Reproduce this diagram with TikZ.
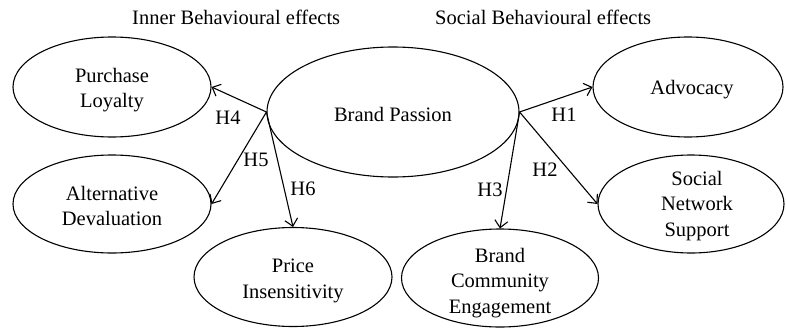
\documentclass[tikz,border=0pt]{standalone}
\usepackage{fontspec}
\setmainfont{Liberation Serif}
\usetikzlibrary{arrows.meta,shapes.geometric}
\begin{document}
\begin{tikzpicture}[x=1pt,y=-1pt,
  bubble/.style={draw, ellipse, line width=1.1pt, inner sep=0pt},
  lbl/.style={align=center, font=\fontsize{20.5}{25.5}\selectfont, inner sep=0pt},
  hyp/.style={font=\fontsize{20.5}{24}\selectfont, inner sep=0pt},
  arr/.style={-{Straight Barb[length=7pt,width=13pt]}, line width=1.1pt}]
\useasboundingbox (0,0) rectangle (786,329);
% ellipses
\node[bubble, minimum width=252pt, minimum height=130pt] (bp) at (393,112) {};
\node[bubble, minimum width=198pt, minimum height=100pt] (pl) at (112,87) {};
\node[bubble, minimum width=198pt, minimum height=98pt] (ad) at (112,204) {};
\node[bubble, minimum width=198pt, minimum height=99pt] (pi) at (293,277) {};
\node[bubble, minimum width=197pt, minimum height=98pt] (bce) at (500,278) {};
\node[bubble, minimum width=190pt, minimum height=100pt] (adv) at (688,87) {};
\node[bubble, minimum width=186pt, minimum height=98pt] (sns) at (691,204) {};
% texts
\node[lbl] (tbp) at (393,114) {Brand Passion};
\node[lbl] (tpl) at (112,90) {Purchase\\Loyalty};
\node[lbl] (tad) at (112,206) {Alternative\\Devaluation};
\node[lbl] (tpi) at (293,281) {Price\\Insensitivity};
\node[lbl] (tbce) at (500,283) {Brand\\Community\\Engagement};
\node[lbl] (tadv) at (692,90) {Advocacy};
\node[lbl] (tsns) at (697,206) {Social\\Network\\Support};
% titles
\node[lbl, anchor=base west] (t1) at (132,25) {Inner Behavioural effects};
\node[lbl, anchor=base west] (t2) at (435,25) {Social Behavioural effects};
% arrows
\draw[arr] (bp.east) -- (adv.west);
\draw[arr] (bp.east) -- (sns.west);
\draw[arr] (bp.east) -- (bce.north);
\draw[arr] (bp.west) -- (pl.east);
\draw[arr] (bp.west) -- (ad.east);
\draw[arr] (bp.west) -- (pi.north);
% hypothesis labels
\node[hyp] (h1) at (564,115) {H1};
\node[hyp] (h2) at (545,170) {H2};
\node[hyp] (h3) at (490,190) {H3};
\node[hyp] (h4) at (228,118) {H4};
\node[hyp] (h5) at (256,160) {H5};
\node[hyp] (h6) at (303,189) {H6};
\end{tikzpicture}
\end{document}
